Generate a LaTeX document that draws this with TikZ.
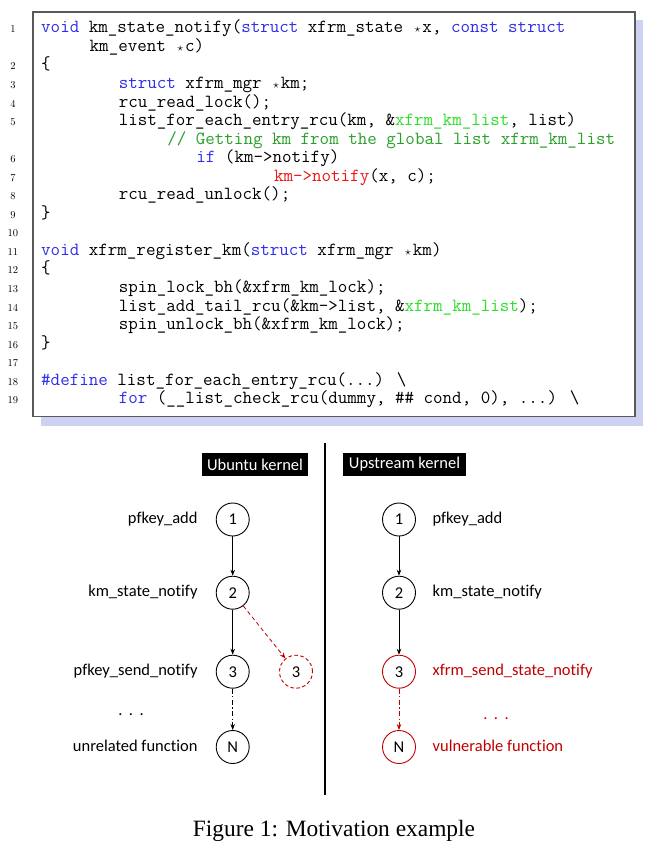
\documentclass[tikz,border=0pt]{standalone}
\usepackage{fontspec}
\newfontfamily\lblfont[Ligatures=NoCommon]{Carlito}
\newfontfamily\capfont{Liberation Serif}
\usetikzlibrary{positioning, arrows.meta}
\definecolor{kwblue}{RGB}{45,45,235}
\definecolor{cmtgreen}{RGB}{40,160,40}
\definecolor{lstgreen}{RGB}{40,225,40}
\definecolor{hotred}{RGB}{240,20,20}
\definecolor{darkred}{RGB}{192,0,0}
\definecolor{shadowblue}{RGB}{205,210,242}
\newcommand{\ckw}[1]{\textcolor{kwblue}{#1}}
\newcommand{\clst}{\textcolor{lstgreen}{xfrm\_km\_list}}
\newcommand{\cst}{\makebox[9.7pt]{$\scriptstyle\star$}}

\begin{document}
\begin{tikzpicture}[x=1pt, y=-1pt,
    code/.style={anchor=base west, inner sep=0, text height=12.5pt, text depth=4pt, font=\fontsize{18.5}{18.5}\selectfont\ttfamily},
    lineno/.style={anchor=base, inner sep=0, font=\fontsize{10.5}{10.5}\selectfont},
    lbl/.style={inner sep=0, text height=11pt, text depth=3pt, font=\lblfont\fontsize{16.5}{16.5}\selectfont},
    tag/.style={fill=black, text=white, inner xsep=5.5pt, inner ysep=0, minimum height=23pt, font=\lblfont\fontsize{16.5}{16.5}\selectfont},
    fn/.style={circle, draw, line width=0.9pt, minimum size=33pt, inner sep=0, font=\lblfont\fontsize{16.5}{16.5}\selectfont},
    flow/.style={-{Stealth[length=6pt,width=4.5pt]}, line width=0.8pt},
    dashdot/.style={dash pattern=on 5pt off 2.5pt on 1.2pt off 2.5pt}
]
    \useasboundingbox (0,0) rectangle (667,854);

    % code listing
    \fill[shadowblue] (41,19.5) rectangle (643,425.5);
    \draw[black!65, line width=1.2pt, fill=white] (33,12) rectangle (635,416.5);

    \foreach \n/\r in {1/0,2/2,3/3,4/4,5/5,6/7,7/8,8/9,9/10,10/11,11/12,12/13,13/14,14/15,15/16,16/17,17/18,18/19,19/20}
    {
        \node[lineno] (n\n) at (13,{32.8+18.55*\r}) {\n};
    };

    \node[code] (c1) at (41,{32.8+18.55*0}) {\ckw{void} km\_state\_notify(\ckw{struct} xfrm\_state \cst x, \ckw{const} \ckw{struct}};
    \node[code] (c1b) at ({41+9.7*5},{32.8+18.55*1}) {km\_event \cst c)};
    \node[code] (c2) at (41,{32.8+18.55*2}) {\{};
    \node[code] (c3) at ({41+9.7*8},{32.8+18.55*3}) {\ckw{struct} xfrm\_mgr \cst km;};
    \node[code] (c4) at ({41+9.7*8},{32.8+18.55*4}) {rcu\_read\_lock();};
    \node[code] (c5) at ({41+9.7*8},{32.8+18.55*5}) {list\_for\_each\_entry\_rcu(km, \&\clst, list)};
    \node[code] (c5b) at ({41+9.7*13},{32.8+18.55*6}) {\textcolor{cmtgreen}{// Getting km from the global list xfrm\_km\_list}};
    \node[code] (c6) at ({41+9.7*16},{32.8+18.55*7}) {\ckw{if} (km->notify)};
    \node[code] (c7) at ({41+9.7*24},{32.8+18.55*8}) {\textcolor{hotred}{km->notify}(x, c);};
    \node[code] (c8) at ({41+9.7*8},{32.8+18.55*9}) {rcu\_read\_unlock();};
    \node[code] (c9) at (41,{32.8+18.55*10}) {\}};
    \node[code] (c11) at (41,{32.8+18.55*12}) {\ckw{void} xfrm\_register\_km(\ckw{struct} xfrm\_mgr \cst km)};
    \node[code] (c12) at (41,{32.8+18.55*13}) {\{};
    \node[code] (c13) at ({41+9.7*8},{32.8+18.55*14}) {spin\_lock\_bh(\&xfrm\_km\_lock);};
    \node[code] (c14) at ({41+9.7*8},{32.8+18.55*15}) {list\_add\_tail\_rcu(\&km->list, \&\clst);};
    \node[code] (c15) at ({41+9.7*8},{32.8+18.55*16}) {spin\_unlock\_bh(\&xfrm\_km\_lock);};
    \node[code] (c16) at (41,{32.8+18.55*17}) {\}};
    \node[code] (c18) at (41,{32.8+18.55*19}) {\ckw{\#define} list\_for\_each\_entry\_rcu(...) \textbackslash};
    \node[code] (c19) at ({41+9.7*8},{32.8+18.55*20}) {\ckw{for} (\_\_list\_check\_rcu(dummy, \#\# cond, 0), ...) \textbackslash};

    % call chains
    \coordinate (divtop) at (325,443);
    \coordinate (divbot) at (325,795);
    \draw[line width=1.3pt] (divtop) -- (divbot);

    \node[tag] (ubu) at (255,464.5) {Ubuntu kernel};
    \node[tag] (ups) at (404.5,464.5) {Upstream kernel};

    \node[fn] (u1) at (232.7,519.5) {1};
    \node[fn] (u2) at (232.7,592.7) {2};
    \node[fn] (u3) at (232.7,671.7) {3};
    \node[fn] (uN) at (232.7,747) {N};
    \node[fn, darkred, dashed, dash pattern=on 3.5pt off 2.5pt] (u3x) at (296,671.7) {\textcolor{black}{3}};

    \node[lbl, left=18pt of u1] (u1t) {pfkey\_add};
    \node[lbl, left=18pt of u2] (u2t) {km\_state\_notify};
    \node[lbl, left=18pt of u3] (u3t) {pfkey\_send\_notify};
    \node[lbl, left=18pt of uN] (uNt) {unrelated function};
    \node[lbl] (udots) at (131,711) {.\hspace{6.5pt}.\hspace{6.5pt}.};

    \draw[flow] (u1) -- (u2);
    \draw[flow] (u2) -- (u3);
    \draw[flow, dashdot] (u3) -- (uN);
    \draw[flow, darkred, dash pattern=on 4pt off 3pt] (u2) -- (u3x);

    \node[fn] (s1) at (399,519.5) {1};
    \node[fn] (s2) at (399,592.7) {2};
    \node[fn, darkred] (s3) at (399,671.7) {\textcolor{black}{3}};
    \node[fn, darkred] (sN) at (399,747) {\textcolor{black}{N}};

    \node[lbl, right=16.5pt of s1] (s1t) {pfkey\_add};
    \node[lbl, right=16.5pt of s2] (s2t) {km\_state\_notify};
    \node[lbl, right=16.5pt of s3, text=darkred] (s3t) {xfrm\_send\_state\_notify};
    \node[lbl, right=16.5pt of sN, text=darkred] (sNt) {vulnerable function};
    \node[lbl, text=darkred] (sdots) at (496,715) {.\hspace{6.5pt}.\hspace{6.5pt}.};

    \draw[flow] (s1) -- (s2);
    \draw[flow] (s2) -- (s3);
    \draw[flow, darkred, dashdot] (s3) -- (sN);

    \node[anchor=base, inner sep=0, font=\capfont\fontsize{23.4}{23.4}\selectfont] (cap) at (334,836) {Figure 1: Motivation example};

\end{tikzpicture}
\end{document}
